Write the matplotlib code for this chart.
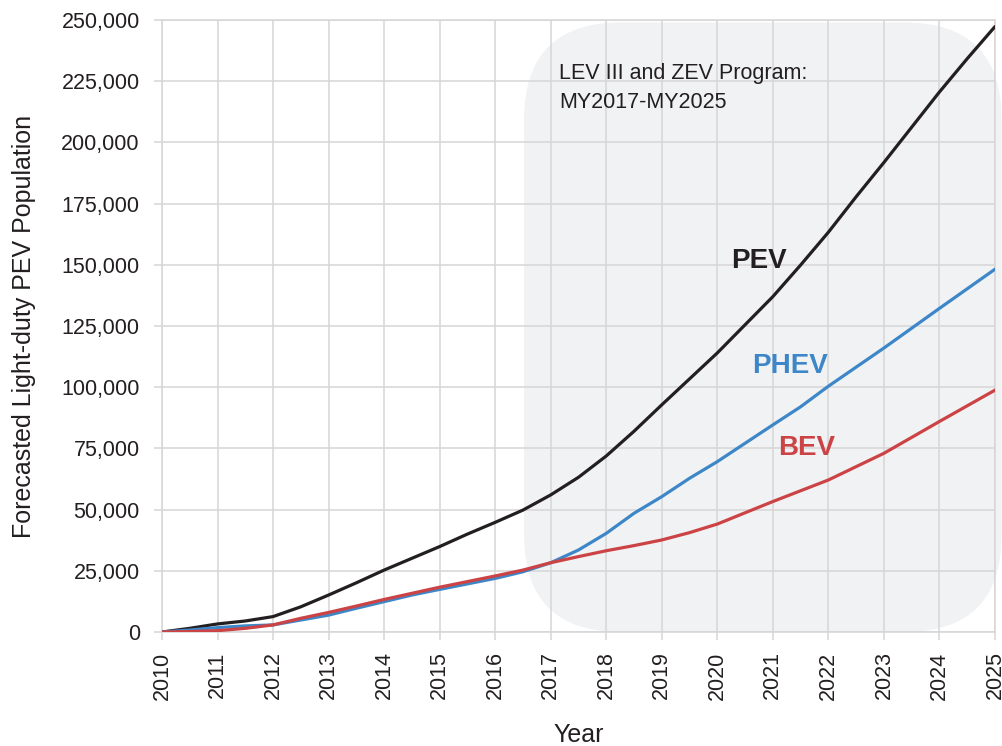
import matplotlib.pyplot as plt
from matplotlib.patches import FancyBboxPatch
from matplotlib.ticker import FuncFormatter

plt.rcParams['font.family'] = ['Liberation Sans', 'DejaVu Sans']

years = list(range(2010, 2026))

pev_x = [2010, 2010.5, 2011, 2011.5, 2012, 2012.5, 2013, 2013.5, 2014, 2014.5,
         2015, 2015.5, 2016, 2016.5, 2017, 2017.5, 2018, 2018.5, 2019, 2020,
         2021, 2021.5, 2022, 2022.5, 2023, 2023.5, 2024, 2024.5, 2025]
pev = [0, 1500, 3300, 4500, 6300, 10300, 15100, 20100, 25300, 30100,
       34900, 40000, 44800, 49800, 56000, 63200, 71900, 82000, 92800, 114000,
       137000, 149900, 163300, 177800, 191800, 206200, 220600, 234200, 247300]

phev_x = [2010, 2010.5, 2011, 2011.5, 2012, 2012.5, 2013, 2013.5, 2014, 2014.5,
          2015, 2016, 2016.5, 2017, 2017.5, 2018, 2018.5, 2019, 2019.5, 2020,
          2021, 2021.5, 2022, 2023, 2024, 2025]
phev = [0, 800, 1800, 2500, 2900, 4900, 6900, 9700, 12400, 15100,
        17400, 21900, 24600, 28300, 33500, 40300, 48500, 55300, 62800, 69600,
        84600, 92000, 100400, 116000, 132200, 148200]

bev_x = [2010, 2010.5, 2011, 2011.5, 2012, 2012.5, 2013, 2013.5, 2014, 2014.5,
         2015, 2016, 2016.5, 2017, 2017.5, 2018, 2018.5, 2019, 2019.5, 2020,
         2021, 2022, 2023, 2023.5, 2024, 2025]
bev = [0, 200, 550, 1500, 2900, 5600, 8000, 10600, 13300, 15800,
       18300, 22900, 25300, 28300, 30800, 33200, 35300, 37600, 40600, 44100,
       53300, 62100, 73000, 79500, 86000, 98800]

c_pev = '#231f20'
c_phev = '#3d87c8'
c_bev = '#cc4345'
grid_c = '#d6d6d6'
text_c = '#231f20'

fig = plt.figure(figsize=(10.03, 7.46), dpi=100)
ax = fig.add_axes([0.1615, 0.1528, 0.8305, 0.8204])

ax.set_xlim(2010, 2025)
ax.set_ylim(0, 250000)

# shaded program period (rounded box)
box = FancyBboxPatch((2016.52, 0), 8.6, 249000,
                     boxstyle='round,pad=0,rounding_size=1.75',
                     mutation_aspect=22700, fc='#f1f2f4', ec='none',
                     zorder=0.2, clip_on=False)
ax.add_patch(box)

ax.plot(pev_x, pev, color=c_pev, lw=2.3, zorder=3, solid_capstyle='round')
ax.plot(phev_x, phev, color=c_phev, lw=2.3, zorder=3, solid_capstyle='round')
ax.plot(bev_x, bev, color=c_bev, lw=2.3, zorder=4, solid_capstyle='round')

ax.text(2020.75, 151500, 'PEV', color=c_pev, fontsize=20, fontweight='bold',
        ha='center', va='center')
ax.text(2021.3, 108500, 'PHEV', color=c_phev, fontsize=20, fontweight='bold',
        ha='center', va='center')
ax.text(2021.6, 75000, 'BEV', color=c_bev, fontsize=20, fontweight='bold',
        ha='center', va='center')
ax.text(2017.15, 232600, 'LEV III and ZEV Program:\nMY2017-MY2025',
        color=text_c, fontsize=15.5, ha='left', va='top', linespacing=1.5)

ax.set_xticks(years)
ax.set_xticklabels([str(y) for y in years], rotation=90)
ax.set_yticks(range(0, 250001, 25000))
ax.yaxis.set_major_formatter(FuncFormatter(lambda v, p: f'{int(v):,}'))

ax.set_axisbelow(True)
ax.grid(True, color=grid_c, lw=1.1)
for s in ax.spines.values():
    s.set_color(grid_c)
    s.set_linewidth(1.1)
ax.tick_params(axis='both', colors=grid_c, labelcolor=text_c, labelsize=15.5,
               length=6, width=1.1)
ax.tick_params(axis='y', pad=10)
ax.tick_params(axis='x', pad=8)

ax.set_xlabel('Year', fontsize=18, color=text_c, labelpad=17)
ax.set_ylabel('Forecasted Light-duty PEV Population', fontsize=18,
              color=text_c, labelpad=18)

fig.savefig('out.png', dpi=100)
